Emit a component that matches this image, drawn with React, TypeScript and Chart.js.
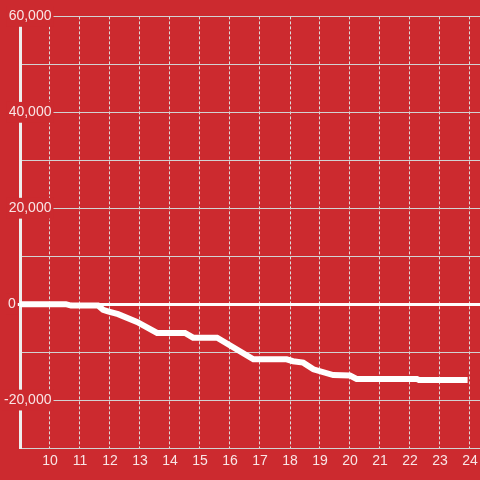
import React, { useEffect, useRef } from 'react';
import { Chart, registerables } from 'chart.js';

Chart.register(...registerables);

// Hours of the day (x) and cumulative value (y)
const hours = [8.5, 10.53, 10.7, 11.6, 11.77, 11.93, 12.27, 12.9, 13.57, 14.5, 14.77, 15.57, 16.78, 17.89, 18.1, 18.44, 18.78, 19.44, 20.0, 20.22, 22.23, 22.3, 23.92];
const values = [0, 0, -300, -300, -1200, -1500, -2100, -3700, -6000, -6000, -7000, -7000, -11500, -11500, -11900, -12200, -13600, -14800, -14900, -15600, -15600, -15800, -15800];

const xTickHours = [10, 11, 12, 13, 14, 15, 16, 17, 18, 19, 20, 21, 22, 23, 24];
const yLabelledTicks = [60000, 40000, 20000, 0, -20000];

const BG = '#cc2a2f';
const GRID = '#d2d2d2';
const VGRID = '#dddddd';
const TEXT = 'rgba(255,255,255,0.88)';
const FONT = { family: "'Liberation Sans', Arial, sans-serif", size: 14 };

export default function App() {
  const ref = useRef<HTMLCanvasElement | null>(null);

  useEffect(() => {
    if (!ref.current) return;
    const data = hours.map((h, i) => ({ x: h, y: values[i] }));
    const chart = new Chart(ref.current, {
      type: 'line',
      data: {
        datasets: [
          {
            data,
            borderColor: '#ffffff',
            borderWidth: 6,
            pointRadius: 0,
            fill: false,
            tension: 0,
          },
        ],
      },
      options: {
        animation: false,
        responsive: false,
        events: [],
        layout: { padding: { top: 16, left: 0, right: 0, bottom: 0 } },
        plugins: { legend: { display: false }, tooltip: { enabled: false }, title: { display: false } },
        scales: {
          x: {
            type: 'linear',
            min: 9,
            max: 9 + 460 / 30,
            afterBuildTicks: (s: any) => {
              s.ticks = xTickHours.map((v) => ({ value: v }));
            },
            afterFit: (s: any) => {
              s.height = 32;
              s.paddingLeft = 0;
              s.paddingRight = 0;
            },
            ticks: {
              autoSkip: false,
              maxRotation: 0,
              padding: 5,
              color: TEXT,
              font: FONT,
              callback: (v: any) => String(v),
            },
            grid: { color: VGRID, lineWidth: 1, drawTicks: false },
            border: { color: GRID, width: 1, dash: [3, 2] },
          },
          y: {
            type: 'linear',
            position: 'left',
            weight: 0,
            min: -30000,
            max: 60000,
            afterFit: (s: any) => {
              s.width = 20;
            },
            ticks: {
              stepSize: 10000,
              autoSkip: false,
              mirror: true,
              crossAlign: 'far',
              padding: -16,
              color: TEXT,
              font: FONT,
              callback: (v: any) =>
                yLabelledTicks.includes(v) && v !== 0 ? Number(v).toLocaleString('en-US') : '',
              showLabelBackdrop: (ctx: any) => {
                const v = ctx.tick ? ctx.tick.value : null;
                return v !== null && v !== 0 && yLabelledTicks.includes(v);
              },
              backdropColor: BG,
              backdropPadding: 2,
            },
            grid: {
              color: (ctx: any) => (ctx.tick && ctx.tick.value === 0 ? '#ffffff' : GRID),
              lineWidth: (ctx: any) => (ctx.tick && ctx.tick.value === 0 ? 3 : 1),
              tickColor: (ctx: any) => (ctx.tick && ctx.tick.value === 0 ? '#ffffff' : 'rgba(0,0,0,0)'),
              tickLength: 8,
              drawTicks: true,
            },
            border: { color: '#eeeeee', width: 3 },
          },
          y0: {
            type: 'linear',
            axis: 'y',
            position: 'left',
            weight: 1,
            min: -30000,
            max: 60000,
            afterFit: (s: any) => {
              s.width = 0;
            },
            ticks: {
              stepSize: 10000,
              autoSkip: false,
              mirror: true,
              crossAlign: 'near',
              padding: 8,
              color: TEXT,
              font: FONT,
              callback: (v: any) => (v === 0 ? '0' : ''),
              showLabelBackdrop: (ctx: any) => !!(ctx.tick && ctx.tick.value === 0),
              backdropColor: BG,
              backdropPadding: 2,
            },
            grid: { display: false, drawTicks: false },
            border: { display: false },
          },
        },
      },
    } as any);
    return () => chart.destroy();
  }, []);

  return (
    <div style={{ position: 'absolute', left: 0, top: 0, width: 480, height: 480, background: BG }}>
      <canvas ref={ref} width={480} height={480} style={{ display: 'block', width: 480, height: 480 }} />
    </div>
  );
}
